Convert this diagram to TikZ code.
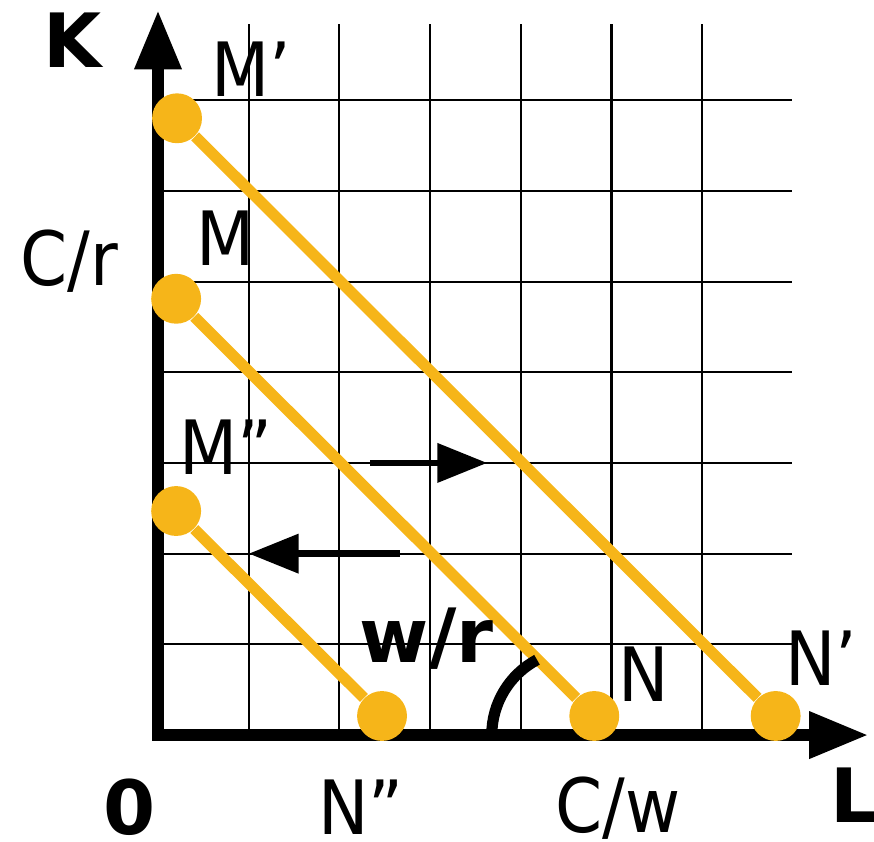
\documentclass[tikz,border=0pt]{standalone}
\usepackage{fontspec}
\setmainfont{DejaVu Sans}
\newfontfamily\condfont{DejaVu Sans Condensed}
\usepackage{tikz}
\usetikzlibrary{arrows.meta, positioning}
\definecolor{budgetorange}{HTML}{F6B519}

\begin{document}
\begin{tikzpicture}[
    font=\fontsize{23.5}{28}\selectfont,
    gridline/.style={black, line width=0.65pt},
    axis/.style={-{Triangle[length=0.65cm, width=0.49cm]}, line width=3.6pt, black},
    budget/.style={budgetorange, line width=3.5pt},
    dot/.style={circle, fill=budgetorange, inner sep=0pt, minimum size=0.55cm},
    shiftarrow/.style={-{Triangle[length=0.55cm, width=0.42cm]}, line width=2.1pt, black},
    lbl/.style={anchor=base west, inner sep=0pt, font=\fontsize{23.5}{28}\selectfont\condfont},
    boldlbl/.style={anchor=base west, inner sep=0pt, font=\fontsize{23.5}{28}\selectfont\bfseries}
]
\useasboundingbox (-1.742,-1.169) rectangle (7.894,8.104);

\draw[gridline] (0,0) grid (6.99,7.84);

\coordinate (origin) at (0,0);
\coordinate (ktip) at (0,7.99);
\coordinate (ltip) at (7.83,0);
\draw[axis] ([yshift=-1.8pt]origin) -- (ktip);
\draw[axis] ([xshift=-1.8pt]origin) -- (ltip);

\node[dot] (Mp) at (0.21,6.80) {};
\node[dot] (M) at (0.20,4.81) {};
\node[dot] (Mpp) at (0.20,2.47) {};
\node[dot] (Npp) at (2.47,0.21) {};
\node[dot] (N) at (4.81,0.21) {};
\node[dot] (Np) at (6.81,0.21) {};

\draw[budget] (Mp) -- (Np);
\draw[budget] (M) -- (N);
\draw[budget] (Mpp) -- (Npp);

\coordinate (outstart) at (2.34,3);
\coordinate (outend) at (3.63,3);
\coordinate (instart) at (2.67,2);
\coordinate (inend) at (1.0,2);
\draw[shiftarrow] (outstart) -- (outend);
\draw[shiftarrow] (instart) -- (inend);

\coordinate (anglestart) at (3.68,0);
\draw[black, line width=3.5pt] (anglestart) arc[start angle=180, end angle=118, radius=0.94];

\node[boldlbl] (klabel) at (-1.27,7.365) {K};
\node[boldlbl] (llabel) at (7.41,-0.96) {L};
\node[boldlbl] (zero) at (-0.61,-1.10) {0};
\node[boldlbl] (slope) at (2.22,0.805) {w/r};
\node[lbl] (Mplabel) at (0.58,7.035) {M’};
\node[lbl] (Mlabel) at (0.42,5.18) {M};
\node[lbl] (Mpplabel) at (0.23,2.87) {M”};
\node[lbl] (Crlabel) at (-1.52,4.96) {C/r};
\node[lbl] (Nlabel) at (5.07,0.375) {N};
\node[lbl] (Nplabel) at (6.91,0.55) {N’};
\node[lbl] (Npplabel) at (1.76,-1.102) {N”};
\node[lbl] (Cwlabel) at (4.38,-1.07) {C/w};

\end{tikzpicture}
\end{document}
